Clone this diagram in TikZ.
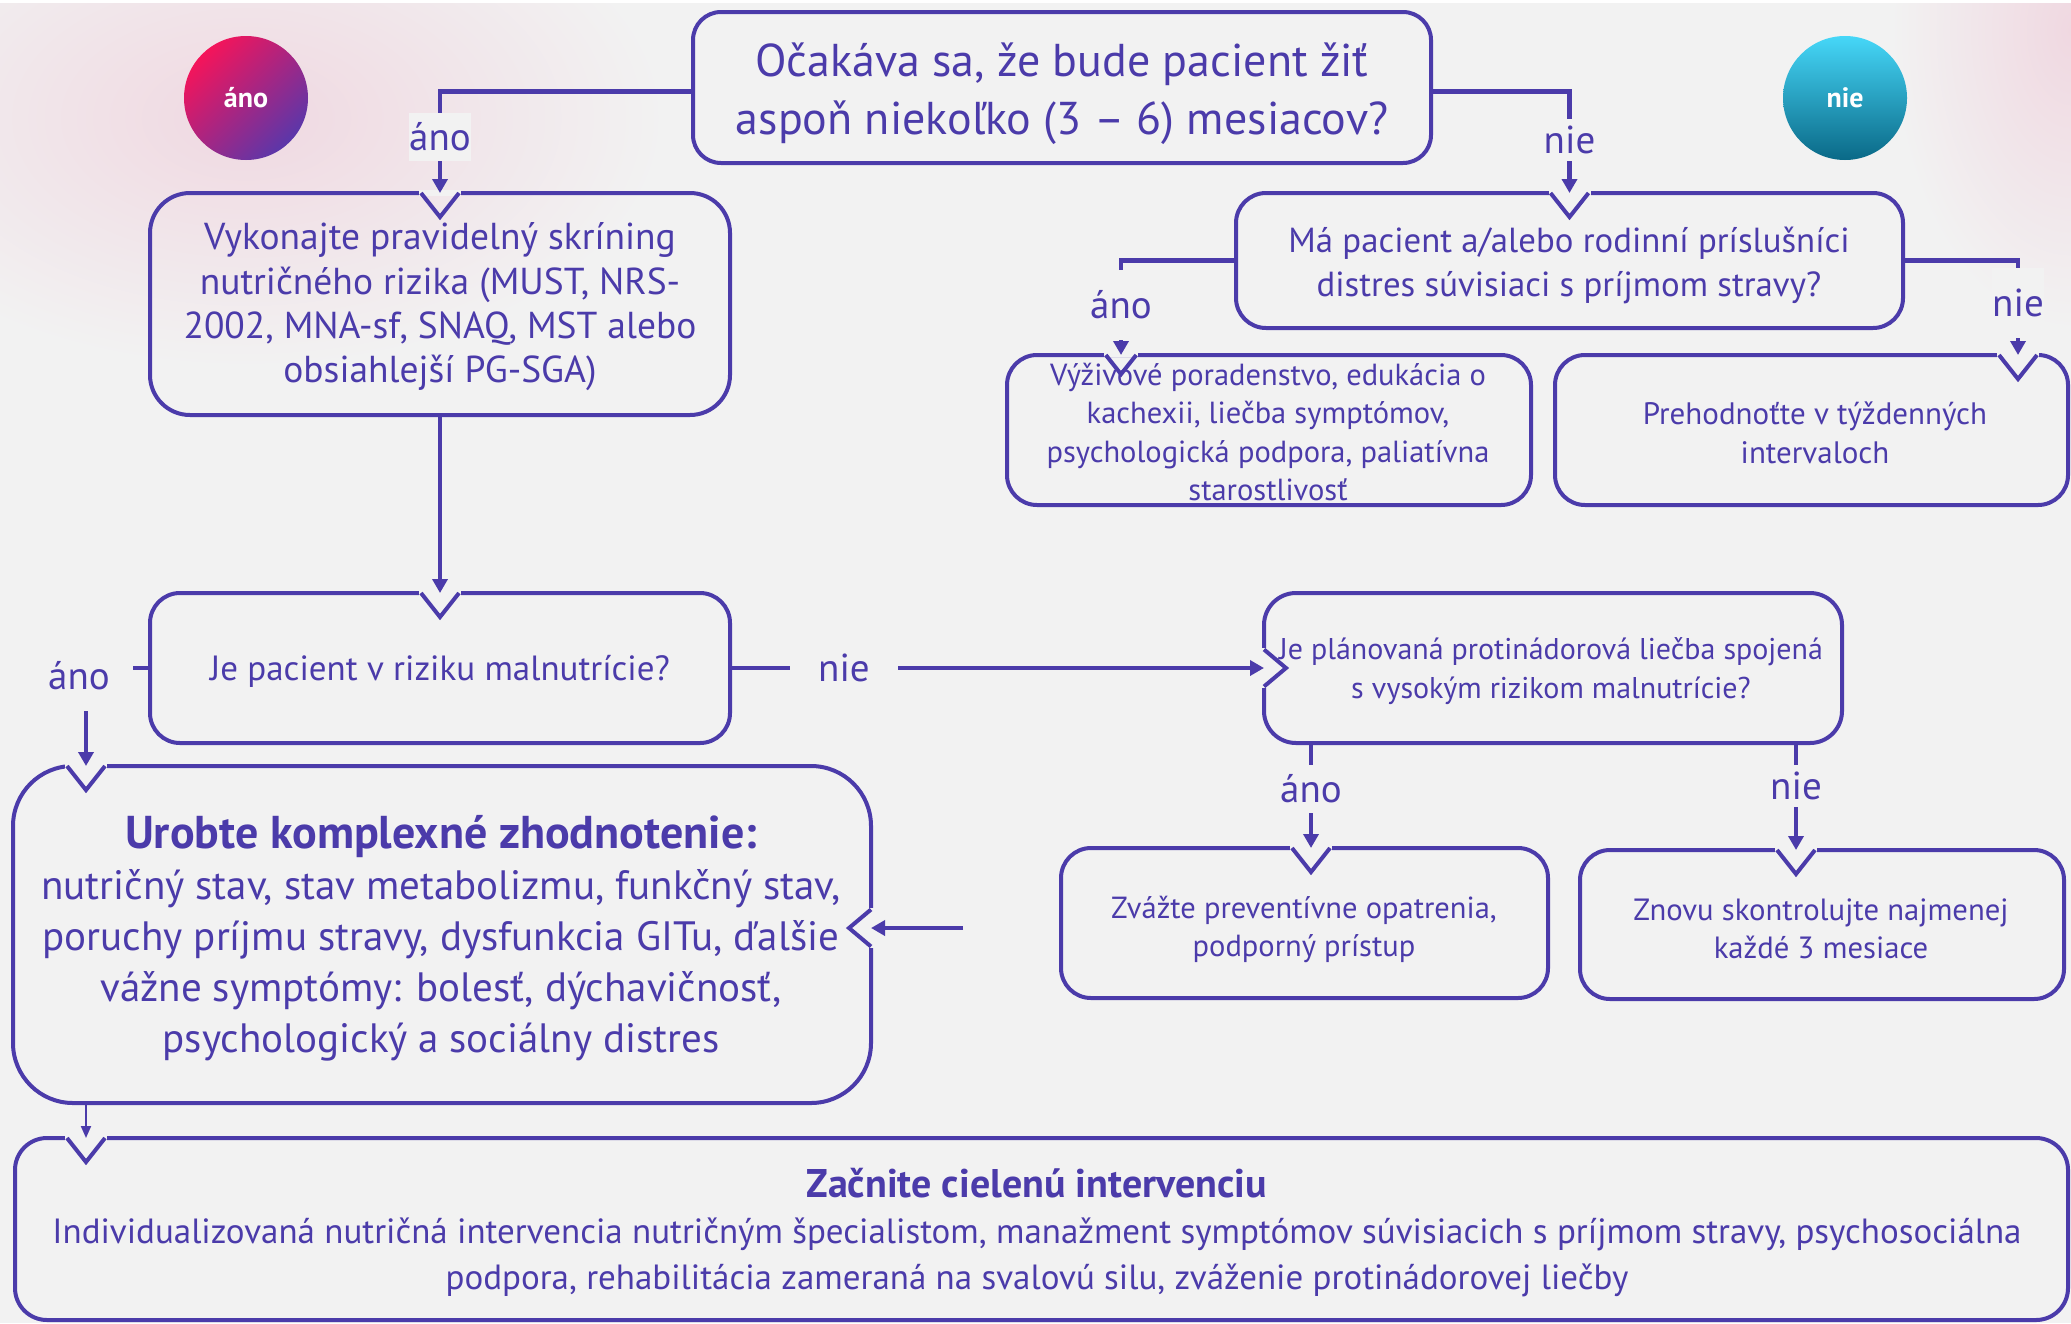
\documentclass[tikz,border=0pt]{standalone}
\usepackage{fontspec}
\setmainfont{PT Sans}
\usetikzlibrary{arrows.meta,calc}
\definecolor{bgc}{RGB}{242,242,242}
\definecolor{pur}{RGB}{75,59,170}
\definecolor{pinkA}{RGB}{245,20,90}
\definecolor{purB}{RGB}{90,55,170}
\definecolor{cyA}{RGB}{70,215,248}
\definecolor{cyB}{RGB}{8,170,210}
\definecolor{cyC}{RGB}{10,105,135}
\definecolor{glow}{RGB}{240,216,225}
\tikzset{
  box/.style={draw=pur, line width=4pt, rounded corners=30pt, inner sep=0pt, outer sep=0pt},
  txt/.style={text=pur, align=center, inner sep=0pt, outer sep=0pt},
  conn/.style={draw=pur, line width=4.5pt, -{Triangle[length=14pt,width=15pt]}},
  thinconn/.style={draw=pur, line width=2pt, -{Triangle[length=12pt,width=10pt]}},
  lbl/.style={fill=bgc, text=pur, font=\fontsize{39}{42}\selectfont, inner sep=0pt, outer sep=0pt},
  notchT/.pic={\fill[bgc] (-21,-3) rectangle (21,3); \draw[pur, line width=4pt] (-19,0) -- (0,24) -- (19,0);},
  notchL/.pic={\fill[bgc] (-3,-20) rectangle (3,20); \draw[pur, line width=4pt] (0,-18.5) -- (22,0) -- (0,18.5);},
  notchR/.pic={\fill[bgc] (-3,-20) rectangle (3,20); \draw[pur, line width=4pt] (0,-18.5) -- (-22,0) -- (0,18.5);},
}
\begin{document}
\begin{tikzpicture}[x=1pt,y=-1pt]
\useasboundingbox (0,0) rectangle (2071,1323);
\clip (0,0) rectangle (2071,1323);
\fill[bgc] (0,0) rectangle (2071,1323);
% glows
\shade[inner color=glow, outer color=bgc] (246,118) ellipse (420 and 250);
\shade[inner color=glow, outer color=bgc] (2071,30) ellipse (180 and 300);
\fill[white] (0,0) rectangle (2071,3);

% circles
\node[circle, minimum size=124pt, inner sep=0pt, top color=pinkA, bottom color=purB, shading angle=45,
      text=white, font=\fontsize{28}{30}\selectfont\bfseries] (c1) at (246,98) {áno};
\node[circle, minimum size=124pt, inner sep=0pt, top color=cyA, middle color=cyB, bottom color=cyC,
      text=white, font=\fontsize{28}{30}\selectfont\bfseries] (c2) at (1845,98) {nie};

% boxes
\node[box, rounded corners=28pt, minimum width=738pt, minimum height=151pt] (Q1) at (1062,87.5) {};
\node[box, rounded corners=40pt, minimum width=580pt, minimum height=222pt] (S) at (440,304) {};
\node[box, minimum width=580pt, minimum height=150pt] (R) at (440,668) {};
\node[box, minimum width=667pt, minimum height=135pt] (D) at (1569.5,260.5) {};
\node[box, minimum width=524pt, minimum height=150pt] (M) at (1269,430) {};
\node[box, minimum width=513pt, minimum height=150pt] (W) at (1811.5,430) {};
\node[box, rounded corners=32pt, minimum width=578pt, minimum height=150pt] (P) at (1553,668) {};
\node[box, minimum width=487pt, minimum height=150pt] (Z) at (1304.5,923) {};
\node[box, minimum width=484pt, minimum height=149pt] (K) at (1822,924.5) {};
\node[box, rounded corners=60pt, minimum width=858pt, minimum height=337pt] (C) at (442,934.5) {};
\node[box, rounded corners=32pt, minimum width=2053pt, minimum height=182pt] (F) at (1041.5,1229) {};

% connector end points on the boxes
\coordinate (Mn) at ([xshift=114pt]M.north west);
\coordinate (Wn) at ([xshift=463pt]W.north west);
\coordinate (Ps1) at ([xshift=47pt]P.south west);
\coordinate (Ps2) at ([xshift=532pt]P.south west);
\coordinate (Zn) at ([xshift=250pt]Z.north west);
\coordinate (Kn) at ([xshift=216pt]K.north west);
\coordinate (Cn) at ([xshift=73pt]C.north west);
\coordinate (Cs) at ([xshift=73pt]C.south west);
\coordinate (Fn) at ([xshift=71pt]F.north west);
\coordinate (Ce) at ([yshift=6.5pt]C.east);
\coordinate (Cfree) at ([xshift=92pt]Ce);

% notches
\pic at (S.north) {notchT};
\pic at (R.north) {notchT};
\pic at (D.north) {notchT};
\pic[scale=0.8] at (Mn) {notchT};
\pic at (Wn) {notchT};
\pic at (P.west) {notchL};
\pic at (Zn) {notchT};
\pic at (Kn) {notchT};
\pic at (Cn) {notchT};
\pic at (Ce) {notchR};
\pic at (Fn) {notchT};

% texts
\node[txt, font=\fontsize{46}{58}\selectfont] (Q1t) at (1062,94)
  {Očakáva sa, že bude pacient žiť\\aspoň niekoľko (3 – 6) mesiacov?};
\node[txt, font=\fontsize{37.5}{44.3}\selectfont] (St) at (440,307)
  {Vykonajte pravidelný skríning\\nutričného rizika (MUST, NRS-\\2002, MNA-sf, SNAQ, MST alebo\\obsiahlejší PG-SGA)};
\node[txt, font=\fontsize{35}{44}\selectfont] (Rt) at (440,671) {Je pacient v riziku malnutrície?};
\node[txt, font=\fontsize{34.8}{44}\selectfont] (Dt) at (1569,265)
  {Má pacient a/alebo rodinní príslušníci\\distres súvisiaci s príjmom stravy?};
\node[txt, font=\fontsize{30.5}{38.3}\selectfont] (Mt) at (1268,432)
  {Výživové poradenstvo, edukácia o\\kachexii, liečba symptómov,\\psychologická podpora, paliatívna\\starostlivosť};
\node[txt, font=\fontsize{31}{39}\selectfont] (Wt) at (1815,433) {Prehodnoťte v týždenných\\intervaloch};
\node[txt, font=\fontsize{30}{39}\selectfont] (Pt) at (1551,671)
  {Je plánovaná protinádorová liečba spojená\\s vysokým rizikom malnutrície?};
\node[txt, font=\fontsize{30.5}{38}\selectfont] (Zt) at (1304,929) {Zvážte preventívne opatrenia,\\podporný prístup};
\node[txt, font=\fontsize{30.7}{38}\selectfont] (Kt) at (1821,929) {Znovu skontrolujte najmenej\\každé 3 mesiace};
\node[txt, font=\fontsize{41}{51}\selectfont] (Ct) at (441,938)
  {{\fontsize{46}{51}\selectfont\textbf{Urobte komplexné zhodnotenie:}}\\nutričný stav, stav metabolizmu, funkčný stav,\\poruchy príjmu stravy, dysfunkcia GITu, ďalšie\\vážne symptómy: bolesť, dýchavičnosť,\\psychologický a sociálny distres};
\node[txt, font=\fontsize{35}{46}\selectfont] (Ft) at (1037,1233)
  {{\fontsize{40}{46}\selectfont\textbf{Začnite cielenú intervenciu}}\\Individualizovaná nutričná intervencia nutričným špecialistom, manažment symptómov súvisiacich s príjmom stravy, psychosociálna\\podpora, rehabilitácia zameraná na svalovú silu, zváženie protinádorovej liečby};

% connectors
\draw[conn] ([yshift=-4pt]Q1.west) -| (S.north);
\draw[conn] ([yshift=-4pt]Q1.east) -| (D.north);
\draw[conn] (S.south) -- (R.north);
\draw[conn] (R.west) -| (Cn);
\draw[conn] (R.east) -- (P.west);
\draw[conn] (D.west) -| (Mn);
\draw[conn] (D.east) -| (Wn);
\draw[conn] (Ps1) -- (Zn);
\draw[conn] (Ps2) -- (Kn);
\draw[conn] (Cfree) -- (Ce);
\draw[thinconn] (Cs) -- (Fn);

% labels
\node[lbl, minimum height=48pt] (L1) at (440,137) {áno};
\node[lbl, minimum height=42pt] (L2) at (1569.5,140) {nie};
\node[lbl, minimum width=108pt, minimum height=70pt] (L3) at (79,676) {áno};
\node[lbl, minimum width=108pt] (L4) at (844,668) {nie};
\node[lbl, minimum height=70pt] (L5) at (1121,305) {áno};
\node[lbl, minimum height=70pt] (L6) at (2018,303) {nie};
\node[lbl, minimum height=48pt] (L7) at (1311,789) {áno};
\node[lbl, minimum height=42pt] (L8) at (1796,786) {nie};
\end{tikzpicture}
\end{document}
